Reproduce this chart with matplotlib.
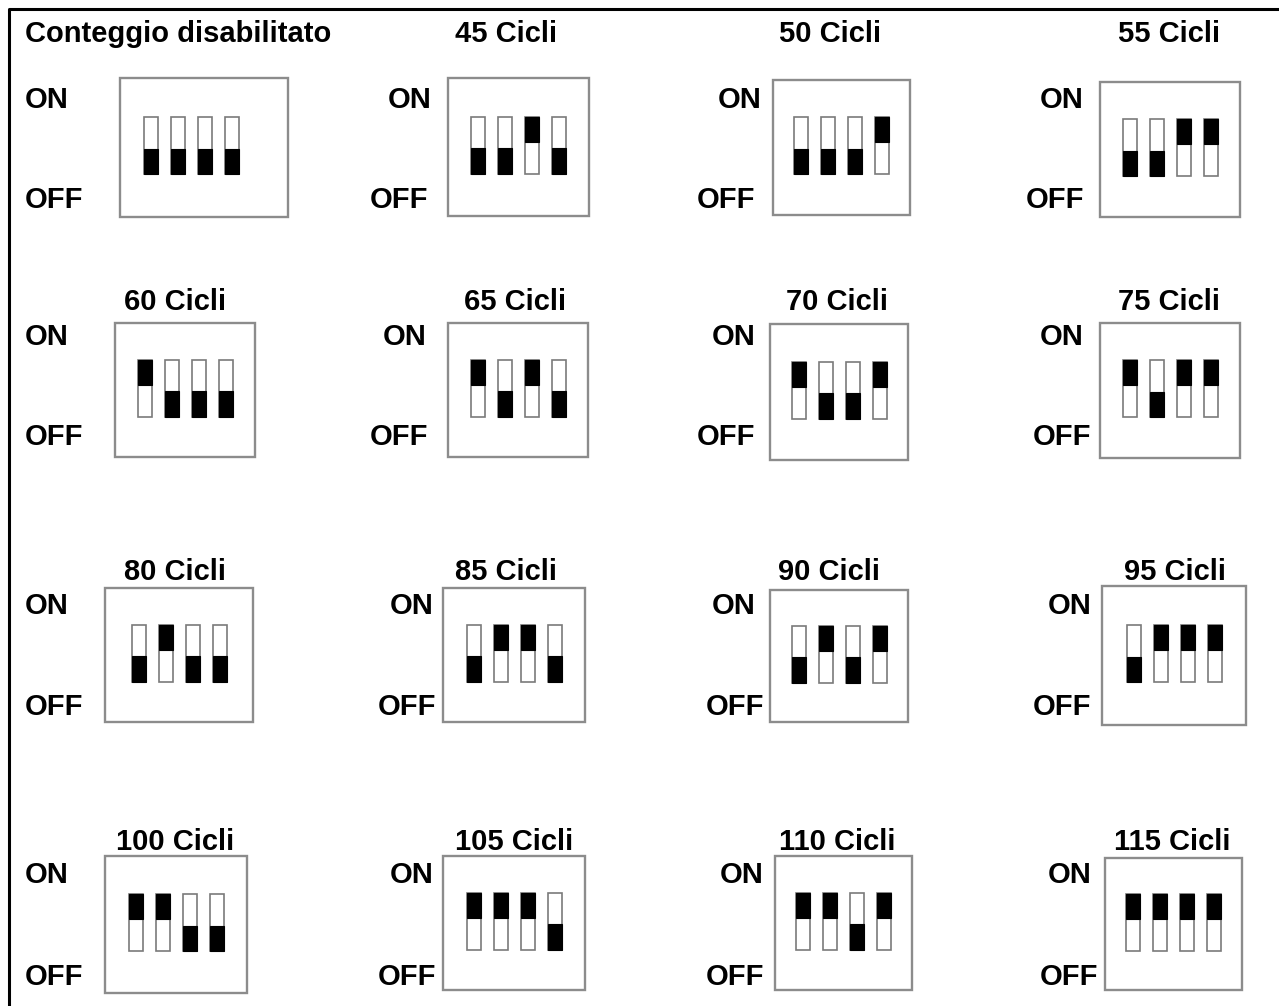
import matplotlib.pyplot as plt
from matplotlib.patches import Rectangle
from matplotlib import font_manager as fm

# titoli dei pannelli e stato dei dip switch (1 = ON, 0 = OFF)
titles = ["Conteggio disabilitato", "45 Cicli", "50 Cicli", "55 Cicli",
          "60 Cicli", "65 Cicli", "70 Cicli", "75 Cicli",
          "80 Cicli", "85 Cicli", "90 Cicli", "95 Cicli",
          "100 Cicli", "105 Cicli", "110 Cicli", "115 Cicli"]
states = [[0, 0, 0, 0], [0, 0, 1, 0], [0, 0, 0, 1], [0, 0, 1, 1],
          [1, 0, 0, 0], [1, 0, 1, 0], [1, 0, 0, 1], [1, 0, 1, 1],
          [0, 1, 0, 0], [0, 1, 1, 0], [0, 1, 0, 1], [0, 1, 1, 1],
          [1, 1, 0, 0], [1, 1, 1, 0], [1, 1, 0, 1], [1, 1, 1, 1]]
on_lbl, off_lbl = "ON", "OFF"

# layout in pixel (x0, x1, y0, y1) per ogni riquadro
boxes = [(120, 288, 78, 217), (448, 589, 78, 216), (773, 910, 80, 215), (1100, 1240, 82, 217),
         (115, 255, 323, 457), (448, 588, 323, 457), (770, 908, 324, 460), (1100, 1240, 323, 458),
         (105, 253, 588, 722), (443, 585, 588, 722), (770, 908, 590, 722), (1102, 1246, 586, 725),
         (105, 247, 856, 993), (443, 585, 856, 990), (775, 912, 856, 990), (1105, 1242, 858, 990)]
title_x = [25, 506, 830, 1169, 175, 515, 837, 1169, 175, 506, 829, 1175, 175, 514, 837, 1172]
title_y = [32, 300, 570, 840]
on_x = [25, 388, 718, 1040, 25, 383, 712, 1040, 25, 390, 712, 1048, 25, 390, 720, 1048]
off_x = [25, 370, 697, 1026, 25, 370, 697, 1033, 25, 378, 706, 1033, 25, 378, 706, 1040]
on_y = [98, 335, 604, 873]
off_y = [198, 435, 705, 975]

# cerca il file Liberation Sans Bold (metriche tipo Arial)
bold_file = None
for f in fm.findSystemFonts():
    if f.endswith("LiberationSans-Bold.ttf"):
        bold_file = f
        break
if bold_file:
    fp = fm.FontProperties(fname=bold_file, size=21)
else:
    fp = fm.FontProperties(family="DejaVu Sans", weight="bold", size=19)

W, H = 1279, 1006
fig = plt.figure(figsize=(W / 100, H / 100), dpi=100)
ax = fig.add_axes([0, 0, 1, 1])
ax.set_xlim(0, W)
ax.set_ylim(H, 0)
ax.axis("off")

cap = 10  # meta' altezza maiuscole in px

# cornice esterna (solo sinistra e alto visibili)
ax.plot([9, 9, W + 5], [H + 5, 9, 9], color="black", lw=2.2, solid_capstyle="butt")

sw_w, sw_h, pitch, black_frac = 14, 57, 27, 0.44

for i, (t, st) in enumerate(zip(titles, states)):
    r = i // 4
    x0, x1, y0, y1 = boxes[i]
    ha = "left" if i == 0 else "center"
    ax.text(title_x[i], title_y[r] + cap, t, ha=ha, va="baseline", fontproperties=fp)
    ax.text(on_x[i], on_y[r] + cap, on_lbl, ha="left", va="baseline", fontproperties=fp)
    ax.text(off_x[i], off_y[r] + cap, off_lbl, ha="left", va="baseline", fontproperties=fp)

    ax.add_patch(Rectangle((x0, y0), x1 - x0, y1 - y0, fill=False,
                           edgecolor="#8c8c8c", lw=1.7))
    cx = (x0 + x1) / 2 + (-13 if i == 0 else 0)
    cy = (y0 + y1) / 2 - 2
    gx = cx - (3 * pitch + sw_w) / 2
    top = cy - sw_h / 2
    for k, s in enumerate(st):
        sx = gx + k * pitch
        ax.add_patch(Rectangle((sx, top), sw_w, sw_h, facecolor="white",
                               edgecolor="#7a7a7a", lw=1.2))
        bh = sw_h * black_frac
        by = top if s == 1 else top + sw_h - bh
        ax.add_patch(Rectangle((sx, by), sw_w, bh, facecolor="black",
                               edgecolor="black", lw=0.8))

fig.savefig("out.png", dpi=100)
